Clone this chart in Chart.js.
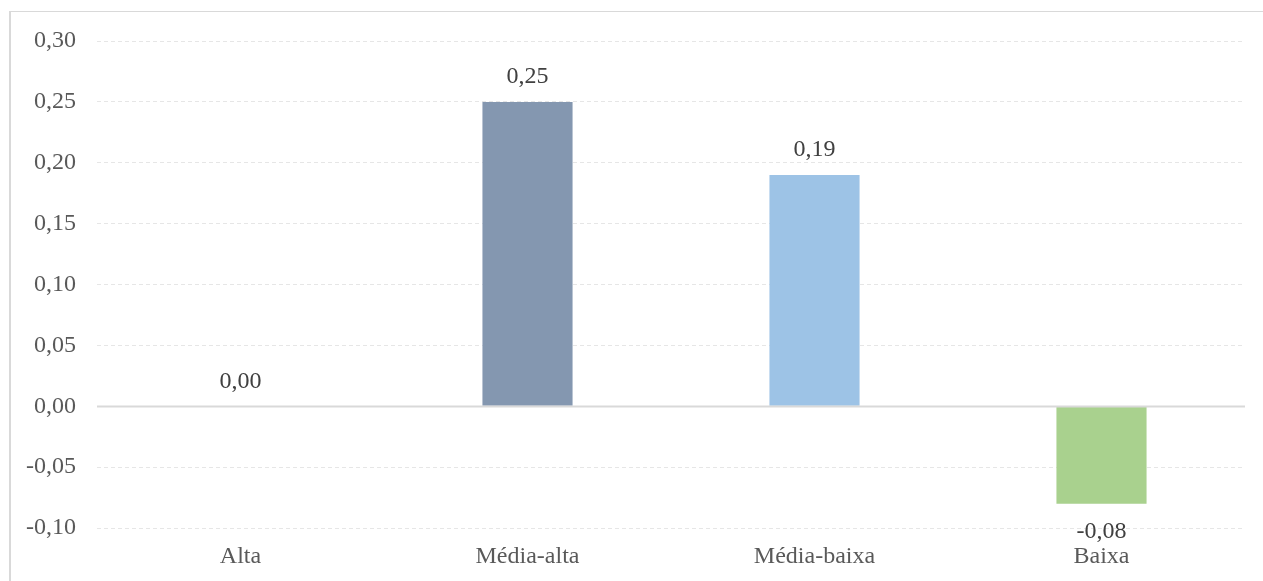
<!DOCTYPE html>
<html>
<head>
<meta charset="utf-8">
<script src="https://cdn.jsdelivr.net/npm/chart.js@4/dist/chart.umd.min.js"></script>
<style>
html,body{margin:0;padding:0;background:#fff;overflow:hidden;}
#wrap{position:absolute;left:0;top:0;width:1263px;height:581px;}
#frame{position:absolute;left:9px;top:11px;width:1300px;height:600px;border-left:2px solid #d9d9d9;border-top:1px solid #d9d9d9;box-sizing:border-box;}
</style>
</head>
<body>
<div id="frame"></div>
<div id="wrap"><canvas id="c" width="1263" height="581"></canvas></div>
<script>
const categories = ["Alta", "Média-alta", "Média-baixa", "Baixa"];
const values = [0.00, 0.25, 0.19, -0.08];
const barColors = ["#8497B0", "#8497B0", "#9DC3E6", "#A9D18E"];
const yMin = -0.10, yMax = 0.30, yStep = 0.05;

const fmt = v => v.toFixed(2).replace('.', ',');
const FONT = "'Liberation Serif', 'Times New Roman', serif";

const zeroLine = {
  id: 'zeroLine',
  afterDatasetsDraw(chart) {
    const {ctx, chartArea, scales} = chart;
    const y = Math.round(scales.y.getPixelForValue(0)) + 0.5;
    ctx.save();
    ctx.strokeStyle = '#d9d9d9';
    ctx.lineWidth = 2;
    ctx.beginPath();
    ctx.moveTo(chartArea.left, y);
    ctx.lineTo(chartArea.right, y);
    ctx.stroke();
    ctx.restore();
  }
};

const dataLabels = {
  id: 'dataLabels',
  afterDraw(chart) {
    const {ctx} = chart;
    const meta = chart.getDatasetMeta(0);
    ctx.save();
    ctx.font = '24px ' + FONT;
    ctx.fillStyle = '#404040';
    ctx.textAlign = 'center';
    ctx.textBaseline = 'middle';
    meta.data.forEach((bar, i) => {
      const v = values[i];
      const y = v >= 0 ? bar.y - 25 : bar.y + 28;
      ctx.fillText(fmt(v), bar.x, y);
    });
    ctx.restore();
  }
};

new Chart(document.getElementById('c'), {
  type: 'bar',
  data: {
    labels: categories,
    datasets: [{
      data: values,
      backgroundColor: barColors,
      borderWidth: 0,
      categoryPercentage: 1,
      barPercentage: 0.314
    }]
  },
  options: {
    responsive: false,
    animation: false,
    devicePixelRatio: 1,
    layout: {padding: {left: 0, right: 18, top: 41, bottom: 0}},
    plugins: {legend: {display: false}, tooltip: {enabled: false}},
    scales: {
      x: {
        grid: {display: false, drawTicks: false},
        border: {display: false},
        ticks: {color: '#595959', font: {family: FONT, size: 24}, padding: 14, maxRotation: 0},
        afterFit(s) { s.height = 53; }
      },
      y: {
        min: yMin, max: yMax,
        grid: {color: '#e6e6e6', lineWidth: 1, drawTicks: false},
        border: {display: false, dash: [4, 3]},
        ticks: {
          stepSize: yStep,
          color: '#595959',
          font: {family: FONT, size: 24},
          padding: 21,
          callback: v => fmt(v)
        },
        afterFit(s) { s.width = 97; }
      }
    }
  },
  plugins: [zeroLine, dataLabels]
});
</script>
</body>
</html>
